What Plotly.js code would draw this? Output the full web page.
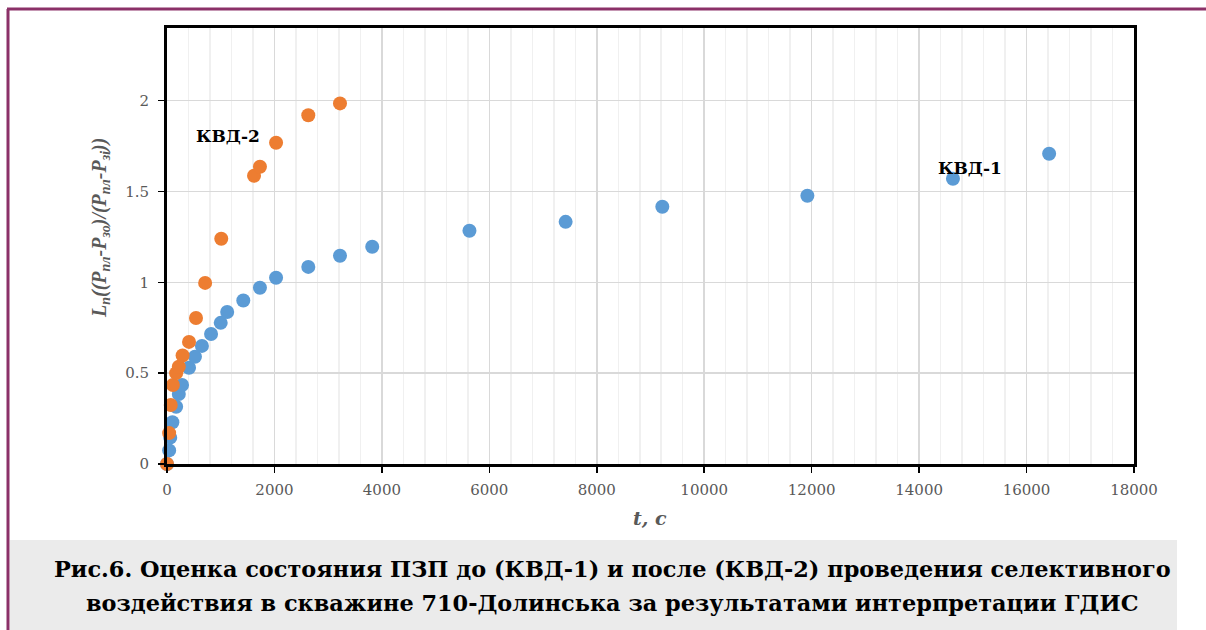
<!DOCTYPE html>
<html><head><meta charset="utf-8">
<script src="https://cdn.plot.ly/plotly-3.0.1.min.js"></script>
<style>html,body{margin:0;padding:0;background:#fff;}#chart{width:1206px;height:630px;}</style>
</head><body><div id="chart"></div>
<script>
// КВД-1 (before treatment)
const kvd1_t = [0, 40, 60, 100, 170, 220, 280, 410, 520, 650, 820, 1000, 1120, 1420, 1730, 2030, 2630, 3220, 3820, 5630, 7420, 9220, 11920, 14630, 16420];
const kvd1_v = [0, 0.075, 0.145, 0.23, 0.315, 0.385, 0.435, 0.53, 0.59, 0.65, 0.716, 0.777, 0.837, 0.90, 0.97, 1.025, 1.085, 1.146, 1.196, 1.284, 1.333, 1.416, 1.477, 1.570, 1.708];
// КВД-2 (after treatment)
const kvd2_t = [0, 40, 70, 110, 170, 220, 290, 410, 540, 710, 1010, 1620, 1730, 2030, 2630, 3220];
const kvd2_v = [0, 0.17, 0.325, 0.435, 0.50, 0.535, 0.597, 0.672, 0.804, 0.997, 1.24, 1.587, 1.636, 1.768, 1.92, 1.985];
const xTicks = [0, 2000, 4000, 6000, 8000, 10000, 12000, 14000, 16000, 18000];
const yTicks = [0, 0.5, 1, 1.5, 2];
const seriesNames = ['КВД-1', 'КВД-2'];
const xTitle = '<b><i>t, c</i></b>';
const yTitle = '<b><i>L<sub>n</sub>((P<sub>пл</sub>-P<sub>зо</sub>)/(P<sub>пл</sub>-P<sub>зі</sub>))</i></b>';
const captionLines = ['Рис.6. Оценка состояния ПЗП до (КВД-1) и после (КВД-2) проведения селективного',
                      'воздействия в скважине 710-Долинська за результатами интерпретации ГДИС'];

const W = 1206, H = 630, L = 167, R = 1134, T = 28, B = 464;
const px = x => (x - L) / (R - L);
const py = y => (B - y) / (B - T);

const serif = 'DejaVu Serif';
const narrowSerif = 'Liberation Serif';
const gray = '#595959';

const traces = [
  {x: kvd1_t, y: kvd1_v, name: seriesNames[0], mode: 'markers', type: 'scatter',
   marker: {color: '#5B9BD5', size: 14}, cliponaxis: false},
  {x: kvd2_t, y: kvd2_v, name: seriesNames[1], mode: 'markers', type: 'scatter',
   marker: {color: '#ED7D31', size: 14}, cliponaxis: false}
];

const layout = {
  width: W, height: H,
  margin: {l: L, r: W - R, t: T, b: H - B, pad: 0},
  paper_bgcolor: '#fff', plot_bgcolor: '#fff',
  showlegend: false,
  font: {family: serif, color: gray},
  xaxis: {
    range: [0, 18000], tickvals: xTicks, ticktext: xTicks.map(String),
    showgrid: true, gridcolor: '#d9d9d9', gridwidth: 1.5,
    minor: {dtick: 400, showgrid: true, gridcolor: '#f0f0f0', gridwidth: 1.5},
    showline: true, linecolor: '#000', linewidth: 3, mirror: true,
    ticks: 'outside', ticklen: 6, tickcolor: '#000', tickwidth: 1.5,
    tickfont: {family: serif, size: 15, color: gray},
    ticklabelstandoff: 4,
    zeroline: false
  },
  yaxis: {
    range: [0, 2.4], tickvals: yTicks, ticktext: yTicks.map(String),
    showgrid: true, gridcolor: '#d9d9d9', gridwidth: 1.5,
    showline: true, linecolor: '#000', linewidth: 3, mirror: true,
    ticks: 'outside', ticklen: 6, tickcolor: '#000', tickwidth: 1.5,
    tickfont: {family: serif, size: 15, color: gray},
    ticklabelstandoff: 6,
    zeroline: false
  },
  shapes: [
    {type: 'rect', xref: 'paper', yref: 'paper', x0: px(10), x1: px(1177), y0: py(630), y1: py(540),
     fillcolor: '#EBEBEB', line: {width: 0}, layer: 'below'},
    {type: 'line', xref: 'paper', yref: 'paper', x0: px(7), x1: px(1206), y0: py(9), y1: py(9),
     line: {color: '#8B3168', width: 3}},
    {type: 'line', xref: 'paper', yref: 'paper', x0: px(8), x1: px(8), y0: py(9), y1: py(630),
     line: {color: '#8B3168', width: 3}}
  ],
  annotations: [
    {x: 1135, y: 1.807, xref: 'x', yref: 'y', text: '<b>' + seriesNames[1] + '</b>', showarrow: false,
     xanchor: 'center', yanchor: 'middle', font: {family: serif, size: 17, color: '#000'}},
    {x: 14940, y: 1.63, xref: 'x', yref: 'y', text: '<b>' + seriesNames[0] + '</b>', showarrow: false,
     xanchor: 'center', yanchor: 'middle', font: {family: serif, size: 17, color: '#000'}},
    {x: px(650), y: py(518), xref: 'paper', yref: 'paper', text: xTitle, showarrow: false,
     xanchor: 'center', yanchor: 'middle', font: {family: serif, size: 19, color: gray}},
    {x: px(100), y: py(228), xref: 'paper', yref: 'paper', text: yTitle, showarrow: false, textangle: -90,
     xanchor: 'center', yanchor: 'middle', font: {family: narrowSerif, size: 20, color: gray}},
    {x: px(612), y: py(569), xref: 'paper', yref: 'paper', text: '<b>' + captionLines[0] + '</b>', showarrow: false,
     xanchor: 'center', yanchor: 'middle', font: {family: serif, size: 22.4, color: '#000'}},
    {x: px(612), y: py(603), xref: 'paper', yref: 'paper', text: '<b>' + captionLines[1] + '</b>', showarrow: false,
     xanchor: 'center', yanchor: 'middle', font: {family: serif, size: 22.4, color: '#000'}}
  ]
};

Plotly.newPlot('chart', traces, layout, {staticPlot: true, displayModeBar: false});
</script></body></html>
